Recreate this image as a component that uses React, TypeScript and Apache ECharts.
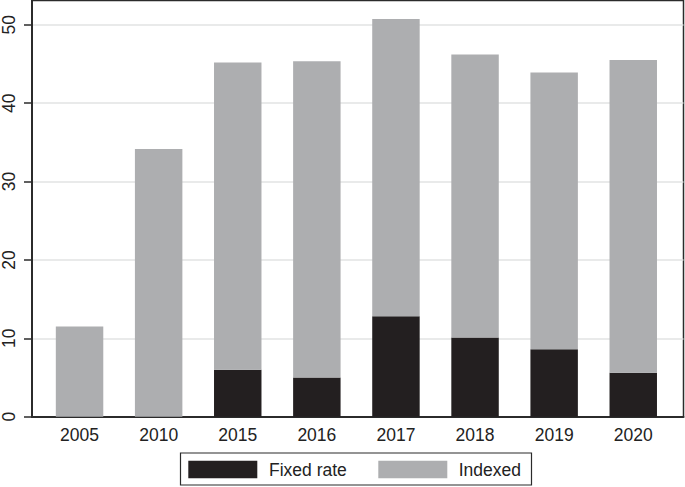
import React, { useEffect, useRef } from "react";
import * as echarts from "echarts";

const years = ["2005", "2010", "2015", "2016", "2017", "2018", "2019", "2020"];
const fixedRate = [0, 0, 6.0, 5.0, 12.8, 10.1, 8.6, 5.6];
const indexed = [11.5, 34.15, 39.2, 40.35, 37.95, 36.1, 35.3, 39.9];
const yTicks = [0, 10, 20, 30, 40, 50];
const seriesNames = ["Fixed rate", "Indexed"];

const FIXED_COLOR = "#231f20";
const INDEXED_COLOR = "#adaeb0";
const FONT = "'Liberation Sans', Arial, Helvetica, sans-serif";
const Y_MAX = 53.1;

export default function App() {
  const ref = useRef<HTMLDivElement>(null);
  useEffect(() => {
    if (!ref.current) return;
    const chart = echarts.init(ref.current, undefined, { renderer: "svg" });
    chart.setOption({
      animation: false,
      backgroundColor: "#ffffff",
      textStyle: { fontFamily: FONT },
      grid: [
        { left: 29, right: 1.5, top: 0.5, bottom: 70.3, show: true, borderColor: "#2b2b2b", borderWidth: 1.5, backgroundColor: "transparent" },
        { left: 40, right: 12.2, top: 0.5, bottom: 70.3 },
      ],
      xAxis: [
        {
          gridIndex: 0,
          type: "value",
          min: 0,
          max: 1,
          axisLine: { show: true, onZero: false, lineStyle: { color: "#2b2b2b", width: 2 } },
          axisTick: { show: false },
          axisLabel: { show: false },
          splitLine: { show: false },
        },
        {
          gridIndex: 1,
          type: "category",
          data: years,
          axisLine: { show: false },
          axisTick: { show: false },
          axisLabel: { color: "#222", fontSize: 17.5, margin: 9, fontFamily: FONT },
        },
      ],
      yAxis: [
        {
          gridIndex: 0,
          type: "value",
          min: 0,
          max: Y_MAX,
          axisLine: { show: true, lineStyle: { color: "#2b2b2b", width: 2 } },
          axisTick: { show: true, length: 8, customValues: yTicks, lineStyle: { color: "#2b2b2b", width: 1.5 } },
          axisLabel: { customValues: yTicks, rotate: 90, margin: 14, fontSize: 17.5, color: "#222", fontFamily: FONT },
          splitLine: { show: true, lineStyle: { color: "#e2e3e3", width: 1.5 } },
        },
        {
          gridIndex: 1,
          type: "value",
          min: 0,
          max: Y_MAX,
          show: false,
          splitLine: { show: false },
        },
      ],
      series: [
        {
          name: seriesNames[0],
          type: "bar",
          stack: "total",
          xAxisIndex: 1,
          yAxisIndex: 1,
          barWidth: "60%",
          itemStyle: { color: FIXED_COLOR },
          data: fixedRate,
        },
        {
          name: seriesNames[1],
          type: "bar",
          stack: "total",
          xAxisIndex: 1,
          yAxisIndex: 1,
          barWidth: "60%",
          itemStyle: { color: INDEXED_COLOR },
          data: indexed,
        },
      ],
      graphic: [
        {
          type: "rect",
          shape: { x: 180.5, y: 453, width: 351, height: 32 },
          style: { fill: "#ffffff", stroke: "#2b2b2b", lineWidth: 1.2 },
        },
        {
          type: "rect",
          shape: { x: 188.3, y: 460.7, width: 69, height: 17.6 },
          style: { fill: FIXED_COLOR },
        },
        {
          type: "text",
          x: 269,
          y: 469.5,
          style: { text: seriesNames[0], fontSize: 17.5, fontFamily: FONT, fill: "#222", verticalAlign: "middle", align: "left" },
        },
        {
          type: "rect",
          shape: { x: 378.3, y: 460.7, width: 69, height: 17.6 },
          style: { fill: INDEXED_COLOR },
        },
        {
          type: "text",
          x: 458.7,
          y: 469.5,
          style: { text: seriesNames[1], fontSize: 17.5, fontFamily: FONT, fill: "#222", verticalAlign: "middle", align: "left" },
        },
      ],
    });
    return () => chart.dispose();
  }, []);
  return <div ref={ref} style={{ width: 685, height: 487, position: "absolute", left: 0, top: 0 }} />;
}
